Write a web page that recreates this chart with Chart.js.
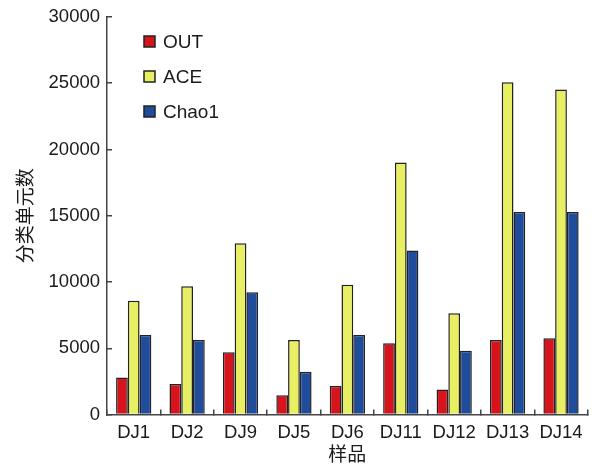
<!DOCTYPE html>
<html>
<head>
<meta charset="utf-8">
<script src="https://cdn.jsdelivr.net/npm/chart.js@4"></script>
<style>
  html, body { margin: 0; padding: 0; background: #fff; }
  #wrap { width: 595px; height: 465px; }
</style>
</head>
<body>
<div id="wrap"><canvas id="chart" width="595" height="465"></canvas></div>
<script>
const samples = ['DJ1', 'DJ2', 'DJ9', 'DJ5', 'DJ6', 'DJ11', 'DJ12', 'DJ13', 'DJ14'];
const outValues = [2800, 2300, 4700, 1450, 2150, 5370, 1880, 5620, 5750];
const aceValues = [8580, 9670, 12930, 5620, 9800, 19020, 7640, 25080, 24530];
const chao1Values = [6000, 5620, 9230, 3220, 6000, 12370, 4820, 15280, 15280];
const yTicks = [0, 5000, 10000, 15000, 20000, 25000, 30000];

const latin = '"Liberation Sans", Arial, sans-serif';
const cjk = '"Noto Sans CJK SC", sans-serif';
const ink = '#1a1a1a';

// legend stacked inside the plot, top left
const boxLegend = {
  id: 'boxLegend',
  afterDatasetsDraw(chart) {
    const ctx = chart.ctx;
    ctx.save();
    chart.data.datasets.forEach((ds, i) => {
      const y = 41.5 + i * 35;
      ctx.fillStyle = ds.backgroundColor;
      ctx.fillRect(144, y - 5.5, 11, 11);
      ctx.lineWidth = 1.5;
      ctx.strokeStyle = '#222';
      ctx.strokeRect(144, y - 5.5, 11, 11);
      ctx.fillStyle = ink;
      ctx.font = '19px ' + latin;
      ctx.textBaseline = 'middle';
      ctx.fillText(ds.label, 163, y + 1);
    });
    ctx.restore();
  }
};

function barSet(label, data, color) {
  return {
    label: label,
    data: data,
    backgroundColor: color,
    borderColor: '#222',
    borderWidth: 1.5,
    categoryPercentage: 0.66,
    barPercentage: 1.0
  };
}

new Chart(document.getElementById('chart'), {
  type: 'bar',
  data: {
    labels: samples,
    datasets: [
      barSet('OUT', outValues, '#d7141b'),
      barSet('ACE', aceValues, '#e9ef62'),
      barSet('Chao1', chao1Values, '#1f4c9b')
    ]
  },
  options: {
    responsive: false,
    animation: false,
    layout: { padding: { left: 0, right: 7, top: 17, bottom: 0 } },
    plugins: {
      legend: { display: false },
      tooltip: { enabled: false }
    },
    scales: {
      x: {
        offset: true,
        grid: {
          offset: true,
          drawOnChartArea: false,
          tickLength: -5,
          color: '#444',
          lineWidth: 1.5
        },
        border: { color: '#444', width: 1.5 },
        ticks: { color: ink, font: { family: latin, size: 18.5 }, padding: 12 },
        title: {
          display: true,
          text: '样品',
          color: ink,
          font: { family: cjk, size: 19 },
          padding: { top: 0, bottom: 0 }
        },
        afterFit(scale) { scale.height = 50.5; }
      },
      y: {
        min: 0,
        max: 30000,
        afterBuildTicks(scale) { scale.ticks = yTicks.map(v => ({ value: v })); },
        grid: {
          drawOnChartArea: false,
          tickLength: -5,
          color: '#444',
          lineWidth: 1.5
        },
        border: { color: '#444', width: 1.5 },
        ticks: {
          color: ink,
          font: { family: latin, size: 18.5 },
          padding: 12,
          callback: v => String(v)
        },
        title: {
          display: true,
          text: '分类单元数',
          color: ink,
          font: { family: cjk, size: 19 },
          padding: { top: 13, bottom: 0 }
        },
        afterFit(scale) {
          scale.width = 107;
          scale.paddingTop = 0;
          scale.paddingBottom = 0;
        }
      }
    }
  },
  plugins: [boxLegend]
});
</script>
</body>
</html>
